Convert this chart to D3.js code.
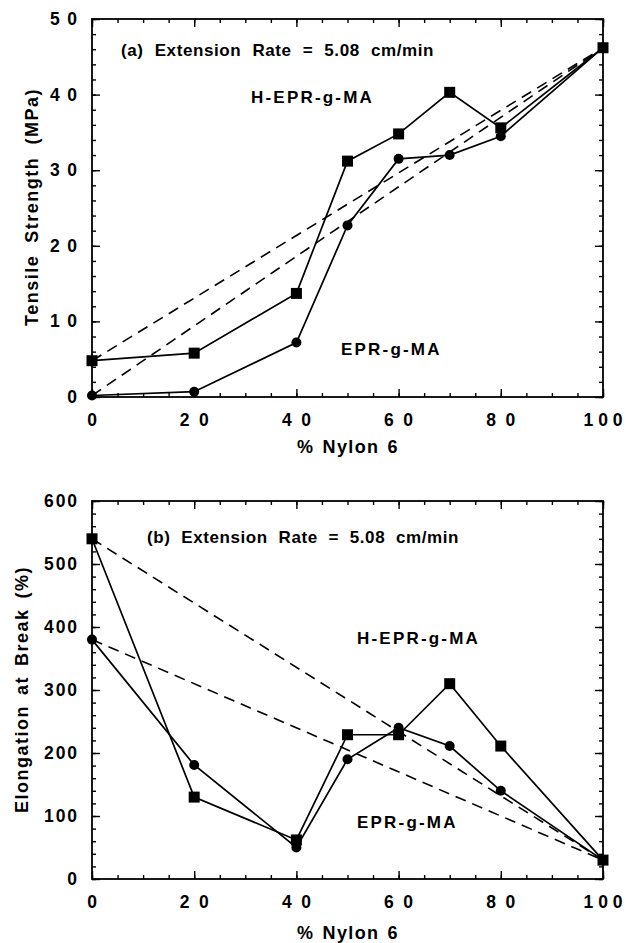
<!DOCTYPE html>
<html>
<head>
<meta charset="utf-8">
<script src="https://cdn.jsdelivr.net/npm/d3@7"></script>
<style>
  html, body { margin: 0; padding: 0; background: #fff; }
  svg { display: block; }
  text { font-family: "Liberation Sans", Arial, Helvetica, sans-serif; font-weight: bold; fill: #000; }
</style>
</head>
<body>
<svg id="chart" width="626" height="943"></svg>
<script>
// ---------------- data ----------------
const nylon = [0, 20, 40, 50, 60, 70, 80, 100];

// (a) Tensile strength (MPa)
const tensileHEPR = [4.8, 5.8, 13.7, 31.2, 34.8, 40.3, 35.6, 46.2];
const tensileEPR  = [0.2, 0.7, 7.2, 22.7, 31.5, 32.0, 34.5, 46.2];

// (b) Elongation at break (%)
const elongHEPR = [540, 130, 62, 229, 229, 310, 211, 30];
const elongEPR  = [380, 181, 50, 190, 240, 211, 140, 30];

const xTicks = [0, 20, 40, 60, 80, 100];
const xTickLabels = ["0", "20", "40", "60", "80", "100"];
const yTicksA = [0, 10, 20, 30, 40, 50];
const yTickLabelsA = ["0", "10", "20", "30", "40", "50"];
const yTicksB = [0, 100, 200, 300, 400, 500, 600];
const yTickLabelsB = ["0", "100", "200", "300", "400", "500", "600"];

const svg = d3.select("#chart");

// fit a text to a target width by widening the gaps between words
function fitWords(sel, target, letter) {
  sel.attr("letter-spacing", letter);
  const node = sel.node();
  const w = node.getComputedTextLength();
  const gaps = (node.textContent.match(/ /g) || []).length;
  if (gaps > 0) sel.attr("word-spacing", Math.max(0, (target - w) / gaps));
}

function panel(cfg) {
  const x = d3.scaleLinear().domain([0, 100]).range([92, 603]);
  const y = d3.scaleLinear().domain(cfg.yDomain).range([cfg.bottom, cfg.top]);
  const g = svg.append("g");

  // frame
  g.append("rect")
    .attr("x", x(0)).attr("y", y(cfg.yDomain[1]))
    .attr("width", x(100) - x(0)).attr("height", y(cfg.yDomain[0]) - y(cfg.yDomain[1]))
    .attr("fill", "none").attr("stroke", "#000").attr("stroke-width", 1.8);

  const minorX = d3.range(0, 100.01, 5);
  const minorY = d3.range(cfg.yDomain[0], cfg.yDomain[1] + 0.01, cfg.yMinor);

  function styleAxis(sel) {
    sel.select(".domain").remove();
    sel.selectAll(".tick line").attr("stroke", "#000").attr("stroke-width", 1.4);
    sel.selectAll("text").remove();
  }
  // minor ticks (inward)
  g.append("g").attr("transform", `translate(0,${cfg.bottom})`)
    .call(d3.axisBottom(x).tickValues(minorX).tickSize(-4)).call(styleAxis);
  g.append("g").attr("transform", `translate(0,${cfg.top})`)
    .call(d3.axisTop(x).tickValues(minorX).tickSize(-4)).call(styleAxis);
  g.append("g").attr("transform", `translate(${x(0)},0)`)
    .call(d3.axisLeft(y).tickValues(minorY).tickSize(-4)).call(styleAxis);
  g.append("g").attr("transform", `translate(${x(100)},0)`)
    .call(d3.axisRight(y).tickValues(minorY).tickSize(-4)).call(styleAxis);
  // major ticks (inward)
  g.append("g").attr("transform", `translate(0,${cfg.bottom})`)
    .call(d3.axisBottom(x).tickValues(xTicks).tickSize(-8)).call(styleAxis);
  g.append("g").attr("transform", `translate(0,${cfg.top})`)
    .call(d3.axisTop(x).tickValues(xTicks).tickSize(-8)).call(styleAxis);
  g.append("g").attr("transform", `translate(${x(0)},0)`)
    .call(d3.axisLeft(y).tickValues(cfg.yTicks).tickSize(-8)).call(styleAxis);
  g.append("g").attr("transform", `translate(${x(100)},0)`)
    .call(d3.axisRight(y).tickValues(cfg.yTicks).tickSize(-8)).call(styleAxis);

  // tick labels
  g.selectAll(".xl").data(xTicks).enter().append("text")
    .attr("x", d => x(d)).attr("y", cfg.bottom + 29)
    .attr("text-anchor", "middle").attr("font-size", 17.5)
    .attr("textLength", (d, i) => [10, 29, 29, 29, 29, 39][i])
    .attr("lengthAdjust", "spacing")
    .text((d, i) => xTickLabels[i]);
  g.selectAll(".yl").data(cfg.yTicks).enter().append("text")
    .attr("x", 77).attr("y", d => y(d) + 6)
    .attr("text-anchor", "end").attr("font-size", 17.5)
    .attr("textLength", (d, i) => cfg.yLabelLen[i])
    .attr("lengthAdjust", "spacing")
    .text((d, i) => cfg.yTickLabels[i]);

  // axis titles
  const xt = g.append("text").attr("x", 297).attr("y", cfg.bottom + cfg.xTitleOff)
    .attr("font-size", 18).text("% Nylon 6");
  fitWords(xt, 102, 1.4);
  const yt = g.append("text")
    .attr("transform", `translate(${cfg.yTitleX},${cfg.yTitleY + cfg.yTitleLen}) rotate(-90)`)
    .attr("font-size", 18).text(cfg.yTitle);
  fitWords(yt, cfg.yTitleLen, 1.5);

  // annotations
  cfg.notes.forEach(n => {
    const t = g.append("text").attr("x", n.x).attr("y", n.y)
      .attr("font-size", 17).text(n.t);
    fitWords(t, n.len, n.ls);
  });

  const line = d3.line().x(d => x(d[0])).y(d => y(d[1]));
  const seriesList = [cfg.sq, cfg.ci];

  // dashed rule-of-mixtures lines
  seriesList.forEach(s => {
    const pts = [[nylon[0], s[0]], [nylon[nylon.length - 1], s[s.length - 1]]];
    g.append("path").attr("d", line(pts))
      .attr("fill", "none").attr("stroke", "#000").attr("stroke-width", 1.6)
      .attr("stroke-dasharray", "11,7");
  });
  // solid lines
  seriesList.forEach(s => {
    g.append("path").attr("d", line(nylon.map((n, i) => [n, s[i]])))
      .attr("fill", "none").attr("stroke", "#000").attr("stroke-width", 1.7);
  });
  // markers
  g.selectAll(".ci").data(nylon).enter().append("circle")
    .attr("cx", d => x(d)).attr("cy", (d, i) => y(cfg.ci[i])).attr("r", 5)
    .attr("fill", "#000");
  g.selectAll(".sq").data(nylon).enter().append("rect")
    .attr("x", d => x(d) - 5.5).attr("y", (d, i) => y(cfg.sq[i]) - 5.5)
    .attr("width", 11).attr("height", 11).attr("fill", "#000");
}

panel({
  top: 19, bottom: 397, yDomain: [0, 50], yMinor: 2,
  yTicks: yTicksA, yTickLabels: yTickLabelsA, yLabelLen: [10, 27, 27, 27, 27, 27],
  yTitle: "Tensile Strength (MPa)", yTitleX: 38, yTitleY: 88, yTitleLen: 238,
  xTitleOff: 56,
  sq: tensileHEPR, ci: tensileEPR,
  notes: [
    { t: "(a) Extension Rate = 5.08 cm/min", x: 121, y: 56, len: 313, ls: 0.6 },
    { t: "H-EPR-g-MA", x: 251, y: 103, len: 115, ls: 2.2 },
    { t: "EPR-g-MA", x: 341, y: 355, len: 93, ls: 2.2 }
  ]
});

panel({
  top: 501, bottom: 879, yDomain: [0, 600], yMinor: 20,
  yTicks: yTicksB, yTickLabels: yTickLabelsB, yLabelLen: [10, 33, 33, 33, 33, 33, 33],
  yTitle: "Elongation at Break (%)", yTitleX: 28, yTitleY: 566, yTitleLen: 247,
  xTitleOff: 60,
  sq: elongHEPR, ci: elongEPR,
  notes: [
    { t: "(b) Extension Rate = 5.08 cm/min", x: 147, y: 543, len: 312, ls: 0.6 },
    { t: "H-EPR-g-MA", x: 357, y: 644, len: 116, ls: 2.2 },
    { t: "EPR-g-MA", x: 357, y: 828, len: 94, ls: 2.2 }
  ]
});
</script>
</body>
</html>
